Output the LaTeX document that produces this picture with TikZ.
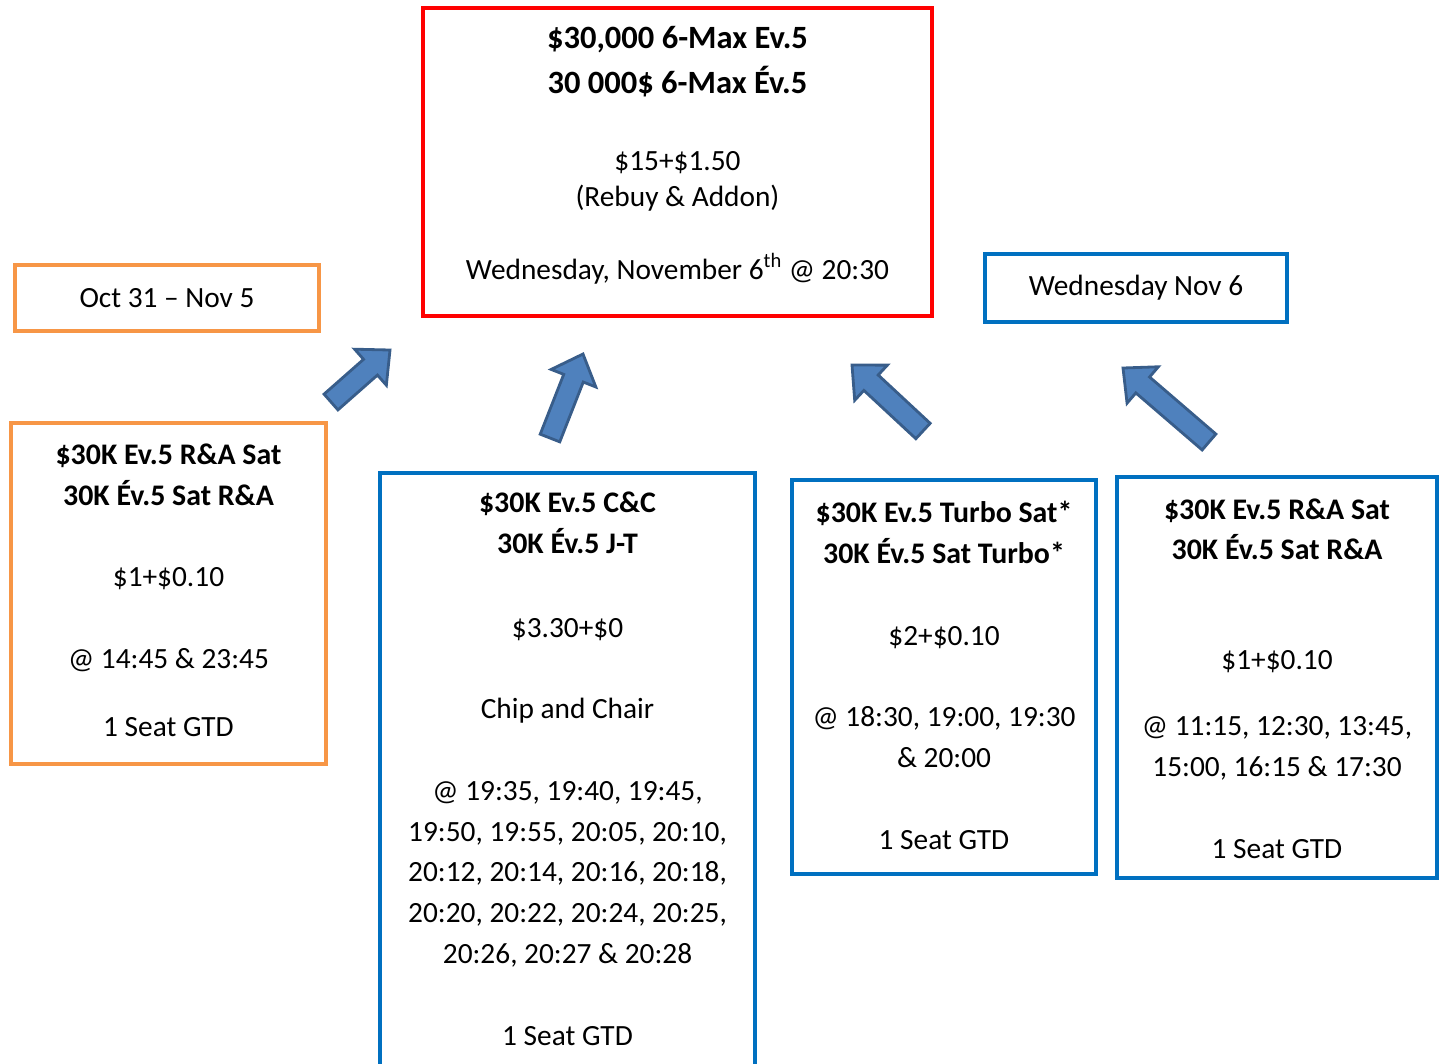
\documentclass[tikz,border=0pt]{standalone}
\usepackage{fontspec}
\setmainfont{Carlito}
\usetikzlibrary{calc}

\definecolor{satorange}{HTML}{F79646}
\definecolor{satblue}{HTML}{0070C0}
\definecolor{mainred}{HTML}{FF0000}
\definecolor{arrowfill}{HTML}{4F81BD}
\definecolor{arrowdraw}{HTML}{385D8A}

% 标题行 (粗体)
\newcommand{\sattitle}[1]{{\fontsize{17}{23.2}\selectfont\bfseries #1}}
\newcommand{\maintitle}[1]{{\fontsize{18.5}{25.5}\selectfont\bfseries #1}}

% 粗箭头: #1 = 尾部, #2 = 箭尖
\newcommand{\blockarrow}[2]{%
  \coordinate (#1neck) at ($(#2)!0.52cm!(#1)$);
  \draw[bigarrow] ($(#1)!0.21cm!-90:(#2)$) -- ($(#1neck)!0.21cm!-90:(#2)$)
    -- ($(#1neck)!0.48cm!-90:(#2)$) -- (#2) -- ($(#1neck)!0.48cm!90:(#2)$)
    -- ($(#1neck)!0.21cm!90:(#2)$) -- ($(#1)!0.21cm!90:(#2)$) -- cycle;
}

\begin{document}
\begin{tikzpicture}[x=0.02cm, y=-0.02cm]
        % ================= 样式定义 =================
        \tikzset{
            % 框
            orangebox/.style={draw=satorange, line width=2.3pt, inner sep=0pt, font=\fontsize{16.7}{23.2}\selectfont},
            bluebox/.style={draw=satblue, line width=2.3pt, inner sep=0pt, font=\fontsize{16.7}{23.2}\selectfont},
            redbox/.style={draw=mainred, line width=2.5pt, inner sep=0pt},
            % 框内文字 (base = 最后一行的基线)
            boxtext/.style={align=center, inner sep=0pt, anchor=base, font=\fontsize{16.7}{23.2}\selectfont},
            % 蓝色粗箭头
            bigarrow/.style={fill=arrowfill, draw=arrowdraw, line width=1.6pt, line join=miter}
        }
        \useasboundingbox (0,0) rectangle (1447,1063);

        % ================= 主赛事 (红框) =================
        \node[redbox, minimum width=10.18cm, minimum height=6.16cm] (main) at (677.5,162) {};
        \node[boxtext, font=\fontsize{16.7}{20.4}\selectfont] (maintext) at (677.5,279) {%
            \maintitle{\$30,000 6-Max Ev.5}\\[5.1pt]
            \maintitle{30 000\$ 6-Max Év.5}\\[23.3pt]
            \$15+\$1.50\\
            (Rebuy \& Addon)\\[21pt]
            Wednesday, November 6\textsuperscript{th} @ 20:30};

        % ================= 日期框 =================
        \node[orangebox, minimum width=6.08cm, minimum height=1.32cm] (dates) at (167,298) {Oct 31 – Nov 5};
        \node[bluebox, minimum width=6.04cm, minimum height=1.36cm] (wedday) at (1136,288) {Wednesday Nov 6};

        % ================= 卫星赛 =================
        % 左: R&A (橙色)
        \node[orangebox, minimum width=6.3cm, minimum height=6.82cm] (sat1) at (168.5,593.5) {};
        \node[boxtext] (sat1text) at (168.5,736) {%
            \sattitle{\$30K Ev.5 R\&A Sat}\\
            \sattitle{30K Év.5 Sat R\&A}\\[23.2pt]
            \$1+\$0.10\\[23.2pt]
            @ 14:45 \& 23:45\\[15.3pt]
            1 Seat GTD};

        % C&C (底边超出画面)
        \node[bluebox, anchor=north, minimum width=7.5cm, minimum height=12cm] (sat2) at (567.5,471) {};
        \node[boxtext] (sat2text) at (567.5,1045) {%
            \sattitle{\$30K Ev.5 C\&C}\\
            \sattitle{30K Év.5 J-T}\\[24.5pt]
            \$3.30+\$0\\[23.2pt]
            Chip and Chair\\[23.2pt]
            @ 19:35, 19:40, 19:45,\\
            19:50, 19:55, 20:05, 20:10,\\
            20:12, 20:14, 20:16, 20:18,\\
            20:20, 20:22, 20:24, 20:25,\\
            20:26, 20:27 \& 20:28\\[23.2pt]
            1 Seat GTD};

        % Turbo
        \node[bluebox, minimum width=6.08cm, minimum height=7.88cm] (sat3) at (944,677) {};
        \node[boxtext] (sat3text) at (944,849) {%
            \sattitle{\$30K Ev.5 Turbo Sat*}\\
            \sattitle{30K Év.5 Sat Turbo*}\\[23.2pt]
            \$2+\$0.10\\[23.2pt]
            @ 18:30, 19:00, 19:30\\
            \& 20:00\\[23.2pt]
            1 Seat GTD};

        % 右: R&A (蓝色)
        \node[bluebox, minimum width=6.4cm, minimum height=8.02cm] (sat4) at (1277,677.5) {};
        \node[boxtext] (sat4text) at (1277,858) {%
            \sattitle{\$30K Ev.5 R\&A Sat}\\
            \sattitle{30K Év.5 Sat R\&A}\\[39pt]
            \$1+\$0.10\\[14.7pt]
            @ 11:15, 12:30, 13:45,\\
            15:00, 16:15 \& 17:30\\[23.2pt]
            1 Seat GTD};

        % ================= 箭头 =================
        \coordinate (a1s) at (331,402);  \coordinate (a1e) at (390,350);
        \coordinate (a2s) at (550,438);  \coordinate (a2e) at (583,354);
        \coordinate (a3s) at (923,431);  \coordinate (a3e) at (852,365);
        \coordinate (a4s) at (1209,442); \coordinate (a4e) at (1123,368);
        \blockarrow{a1s}{a1e}
        \blockarrow{a2s}{a2e}
        \blockarrow{a3s}{a3e}
        \blockarrow{a4s}{a4e}

\end{tikzpicture}
\end{document}
